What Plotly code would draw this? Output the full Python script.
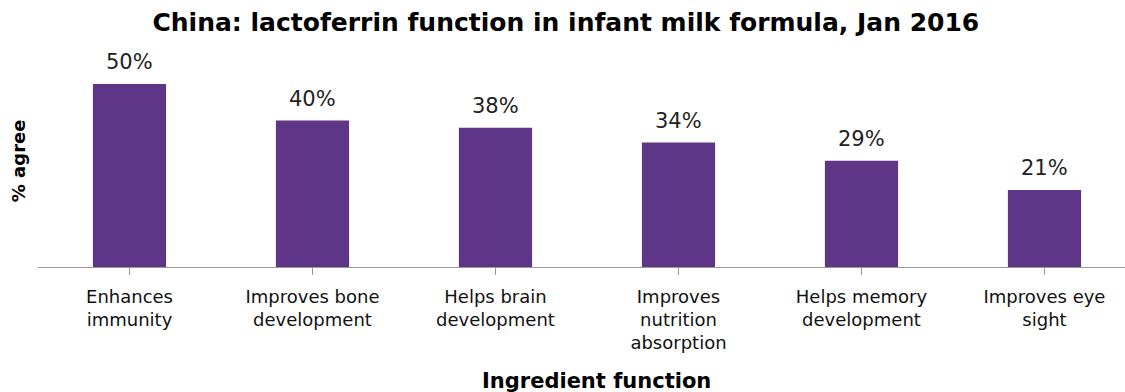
import plotly.graph_objects as go

# Survey results: share of respondents agreeing with each lactoferrin function
categories = [
    "Enhances<br>immunity",
    "Improves bone<br>development",
    "Helps brain<br>development",
    "Improves<br>nutrition<br>absorption",
    "Helps memory<br>development",
    "Improves eye<br>sight",
]
agree_pct = [50, 40, 38, 34, 29, 21]
value_labels = [f"{v}%" for v in agree_pct]

BAR_COLOR = "#5F3588"
FONT = "DejaVu Sans, Arial, sans-serif"

fig = go.Figure(
    go.Bar(
        x=list(range(len(categories))),
        y=agree_pct,
        width=0.4,
        marker=dict(color=BAR_COLOR, line=dict(width=0)),
        hoverinfo="skip",
    )
)

# Percentage labels above each bar
for i, (v, lab) in enumerate(zip(agree_pct, value_labels)):
    fig.add_annotation(
        x=i, y=v, text=lab, showarrow=False,
        xanchor="center", yanchor="bottom", yshift=8,
        font=dict(family=FONT, size=21, color="#222222"),
    )

fig.add_annotation(
    xref="paper", yref="paper", x=-0.0185, y=0.47,
    text="<b>% agree</b>", textangle=-90, showarrow=False,
    xanchor="center", yanchor="middle",
    font=dict(family=FONT, size=18, color="#000000"),
)
fig.add_annotation(
    xref="paper", yref="paper", x=0.514, y=-0.5,
    text="<b>Ingredient function</b>", showarrow=False,
    xanchor="center", yanchor="middle",
    font=dict(family=FONT, size=21, color="#000000"),
)

fig.update_layout(
    width=1125, height=392,
    margin=dict(l=38, r=0, t=40, b=125),
    paper_bgcolor="white", plot_bgcolor="white",
    showlegend=False,
    title=dict(
        text="<b>China: lactoferrin function in infant milk formula, Jan 2016</b>",
        x=0.503, xanchor="center", y=0.943, yanchor="middle",
        font=dict(family=FONT, size=25, color="#000000"),
    ),
    xaxis=dict(
        tickmode="array",
        tickvals=list(range(len(categories))),
        ticktext=categories,
        range=[-0.5, 5.44],
        tickson="boundaries",
        ticks="outside", ticklen=7, tickcolor="#999999", tickwidth=1,
        showline=True, linecolor="#999999", linewidth=1,
        showgrid=False, zeroline=False,
        tickfont=dict(family=FONT, size=18, color="#111111"),
        ticklabelstandoff=6,
    ),
    yaxis=dict(
        range=[0, 62],
        visible=False,
        showgrid=False, zeroline=False,
    ),
)

fig.write_html("out.html")
